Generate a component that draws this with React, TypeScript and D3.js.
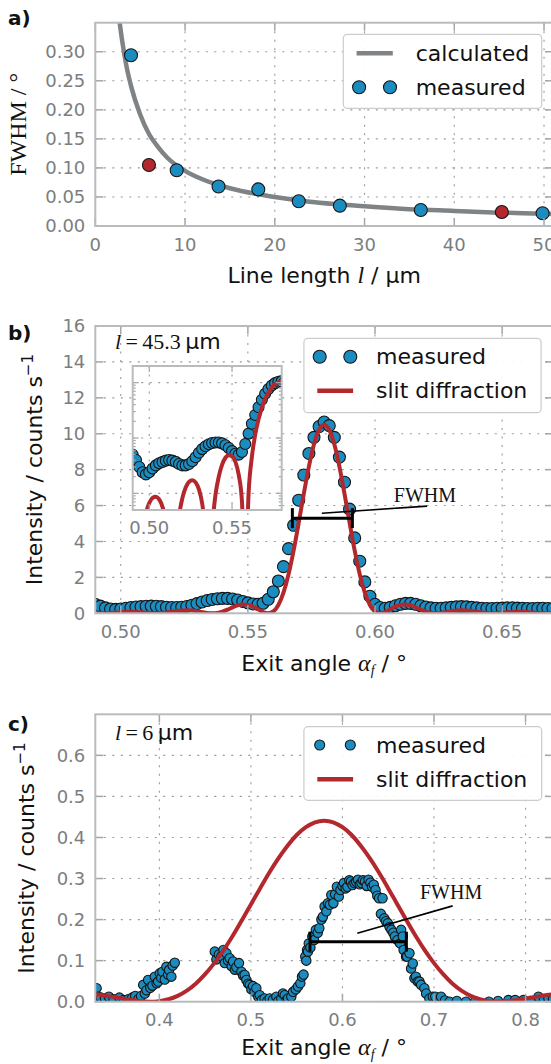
import { useRef, useEffect } from 'react';
import * as d3 from 'd3';

// a) FWHM against line length
const measuredLength = [3.98, 9.07, 13.73, 18.16, 22.67, 27.25, 36.27, 49.84];
const measuredFwhm = [0.294, 0.096, 0.068, 0.063, 0.0425, 0.035, 0.0276, 0.0219];
const shownLength = [5.98, 45.3];
const shownFwhm = [0.105, 0.024];
const calcLength = [2.7, 3.0, 3.5, 4, 5, 6, 7, 8, 10, 12, 15, 20, 25, 30, 35, 40, 45, 50, 52];
const calcFwhm = [0.352, 0.318, 0.273, 0.24, 0.192, 0.158, 0.136, 0.118, 0.095, 0.08, 0.065, 0.05, 0.04, 0.034, 0.029, 0.026, 0.023, 0.021, 0.02];
const ticksAx = [0, 10, 20, 30, 40, 50];
const ticksAy = [0, 0.05, 0.1, 0.15, 0.2, 0.25, 0.3];

// b) l = 45.3 um
const angleB = [
  0.490, 0.492, 0.494, 0.496, 0.498, 0.500, 0.502, 0.504, 0.506, 0.508,
  0.510, 0.512, 0.514, 0.516, 0.518, 0.520, 0.522, 0.524, 0.526, 0.528,
  0.530, 0.532, 0.534, 0.536, 0.538, 0.540, 0.542, 0.544, 0.546, 0.548,
  0.550, 0.552, 0.554, 0.556, 0.558, 0.560, 0.562, 0.564, 0.566, 0.568,
  0.570, 0.572, 0.574, 0.576, 0.578, 0.580, 0.582, 0.584, 0.586, 0.588,
  0.590, 0.592, 0.594, 0.596, 0.598, 0.600, 0.602, 0.604, 0.606, 0.608,
  0.610, 0.612, 0.614, 0.616, 0.618, 0.620, 0.622, 0.624, 0.626, 0.628,
  0.630, 0.632, 0.634, 0.636, 0.638, 0.640, 0.642, 0.644, 0.646, 0.648,
  0.650, 0.652, 0.654, 0.656, 0.658, 0.660, 0.662, 0.664, 0.666, 0.668,
  0.670,
];
const measuredB = [
  0.50, 0.40, 0.30, 0.24, 0.22, 0.24, 0.28, 0.32, 0.35, 0.37,
  0.39, 0.40, 0.39, 0.37, 0.34, 0.32, 0.32, 0.34, 0.38, 0.45,
  0.54, 0.63, 0.71, 0.77, 0.81, 0.83, 0.83, 0.80, 0.74, 0.66,
  0.58, 0.52, 0.50, 0.56, 0.78, 1.20, 1.80, 2.60, 3.60, 4.90,
  6.30, 7.70, 8.90, 9.80, 10.40, 10.65, 10.45, 9.80, 8.70, 7.30,
  5.80, 4.20, 2.90, 1.75, 0.95, 0.50, 0.32, 0.28, 0.33, 0.42,
  0.50, 0.55, 0.55, 0.50, 0.42, 0.35, 0.30, 0.28, 0.28, 0.30,
  0.33, 0.36, 0.37, 0.36, 0.33, 0.30, 0.28, 0.27, 0.27, 0.28,
  0.29, 0.30, 0.30, 0.29, 0.28, 0.27, 0.27, 0.28, 0.28, 0.27,
  0.27,
];
const slitB = [
  0.005, 0, 0.0055, 0.021, 0.044, 0.067, 0.083, 0.087, 0.078, 0.057,
  0.031, 0.0088, 0, 0.010, 0.039, 0.082, 0.127, 0.161, 0.173, 0.158,
  0.118, 0.065, 0.019, 0, 0.023, 0.094, 0.20, 0.33, 0.44, 0.49,
  0.47, 0.375, 0.22, 0.071, 0, 0.10, 0.46, 1.15, 2.17, 3.50,
  5.05, 6.66, 8.17, 9.41, 10.22, 10.50, 10.22, 9.41, 8.17, 6.66,
  5.05, 3.50, 2.17, 1.15, 0.46, 0.10, 0, 0.071, 0.22, 0.375,
  0.47, 0.49, 0.44, 0.33, 0.20, 0.094, 0.023, 0, 0.019, 0.065,
  0.118, 0.158, 0.173, 0.161, 0.127, 0.082, 0.039, 0.010, 0, 0.0088,
  0.031, 0.057, 0.078, 0.087, 0.083, 0.067, 0.044, 0.021, 0.0055, 0,
  0.005,
];
const fwhmB = [0.5675, 0.5911];
const fwhmLevelB = 5.3;
const ticksBx = [0.5, 0.55, 0.6, 0.65];
const ticksBy = [0, 2, 4, 6, 8, 10, 12, 14, 16];
const insetTicksX = [0.5, 0.55];
const insetDecades = [0.1, 1, 10];

// c) l = 6 um
const angleC = [
  0.3314, 0.333, 0.336, 0.3405, 0.3448, 0.35, 0.3563, 0.361, 0.366, 0.3703,
  0.3736, 0.377, 0.38, 0.3823, 0.3841, 0.386, 0.3877, 0.39, 0.3924, 0.395,
  0.397, 0.3986, 0.4004, 0.402, 0.4033, 0.4059, 0.4077, 0.4095, 0.4106, 0.4131,
  0.4145, 0.4168,
  0.4605, 0.4623, 0.465, 0.4677, 0.47, 0.4714, 0.4732, 0.475, 0.4768, 0.479,
  0.4805, 0.4825, 0.4841, 0.487, 0.4896, 0.4915, 0.4932, 0.495, 0.497, 0.4987,
  0.5005, 0.5023, 0.504, 0.5059, 0.508, 0.5096, 0.512, 0.515, 0.518, 0.5205,
  0.524, 0.5278, 0.53, 0.5332, 0.535, 0.5369, 0.539, 0.5405, 0.5441, 0.546,
  0.549, 0.5514, 0.554, 0.5558, 0.5575, 0.5594, 0.5605, 0.5613, 0.5623, 0.5632,
  0.565, 0.5671, 0.569, 0.5709, 0.573, 0.5747, 0.577, 0.5786, 0.5805, 0.5824,
  0.5841, 0.5862, 0.5878, 0.5901, 0.592, 0.5939, 0.596, 0.5978, 0.6, 0.6016,
  0.6035, 0.6054, 0.6075, 0.6093, 0.611, 0.6131, 0.615, 0.6169, 0.619, 0.6208,
  0.6225, 0.6246, 0.6265, 0.6285, 0.6305, 0.6323, 0.6342, 0.6361, 0.638, 0.64,
  0.642, 0.6438, 0.6457, 0.6475, 0.6496, 0.6515, 0.6534, 0.6555, 0.6572, 0.66,
  0.663, 0.6641, 0.6659, 0.6668, 0.6695, 0.6706, 0.6732, 0.675, 0.6768, 0.6786,
  0.6802, 0.6823, 0.6841, 0.6859, 0.6895, 0.6914, 0.695, 0.6987, 0.7014, 0.7077,
  0.712, 0.717, 0.725, 0.735, 0.745, 0.76, 0.77, 0.7813, 0.7886, 0.7977,
  0.805, 0.8141, 0.82, 0.825, 0.83,
];
const measuredC = [
  0.033, 0.012, 0.010, 0.008, 0.012, 0.006, 0.010, 0.004, 0.006, 0.010,
  0.014, 0.006, 0.014, 0.041, 0.020, 0.028, 0.053, 0.034, 0.039, 0.061,
  0.045, 0.049, 0.069, 0.058, 0.073, 0.054, 0.085, 0.066, 0.077, 0.061,
  0.088, 0.095,
  0.122, 0.103, 0.115, 0.110, 0.126, 0.094, 0.118, 0.100, 0.106, 0.086,
  0.098, 0.078, 0.084, 0.094, 0.073, 0.064, 0.065, 0.053, 0.044, 0.041,
  0.030, 0.038, 0.024, 0.033, 0.012, 0.016, 0.004, 0.008, 0.002, 0.008,
  0.004, 0.012, 0.002, 0.008, 0.020, 0.016, 0.004, 0.008, 0.012, 0.024,
  0.030, 0.037, 0.045, 0.061, 0.066, 0.110, 0.100, 0.126, 0.122, 0.142,
  0.132, 0.159, 0.150, 0.175, 0.168, 0.179, 0.200, 0.207, 0.232, 0.220,
  0.240, 0.236, 0.260, 0.240, 0.262, 0.280, 0.256, 0.272, 0.282, 0.289,
  0.276, 0.280, 0.296, 0.293, 0.284, 0.289, 0.292, 0.297, 0.286, 0.289,
  0.296, 0.293, 0.282, 0.297, 0.290, 0.280, 0.285, 0.272, 0.258, 0.252,
  0.214, 0.252, 0.203, 0.196, 0.191, 0.182, 0.175, 0.168, 0.159, 0.150,
  0.142, 0.175, 0.159, 0.126, 0.110, 0.110, 0.118, 0.081, 0.093, 0.057,
  0.061, 0.049, 0.049, 0.041, 0.033, 0.020, 0.008, 0.012, 0.012, 0.012,
  0.003, 0.000, 0.002, 0.000, 0.001, 0.000, 0.002, 0.004, 0.004, 0.004,
  0.002, 0.012, 0.004, 0.008, 0.006,
];
const slitAngleC = [
  0.33, 0.34, 0.35, 0.36, 0.37, 0.38, 0.39, 0.40, 0.41, 0.42,
  0.43, 0.44, 0.45, 0.46, 0.47, 0.48, 0.49, 0.50, 0.51, 0.52,
  0.53, 0.54, 0.55, 0.56, 0.57, 0.58, 0.59, 0.60, 0.61, 0.62,
  0.63, 0.64, 0.65, 0.66, 0.67, 0.68, 0.69, 0.70, 0.71, 0.72,
  0.73, 0.74, 0.75, 0.76, 0.77, 0.78, 0.79, 0.80, 0.81, 0.82,
  0.83,
];
const slitC = [
  0.0181, 0.0152, 0.0115, 0.0076, 0.0039, 0.0011, 0, 0.0014, 0.0059, 0.0143,
  0.027, 0.0445, 0.067, 0.094, 0.125, 0.160, 0.198, 0.237, 0.276, 0.314,
  0.349, 0.380, 0.406, 0.425, 0.437, 0.441, 0.437, 0.425, 0.406, 0.380,
  0.349, 0.314, 0.276, 0.237, 0.198, 0.160, 0.125, 0.094, 0.067, 0.0445,
  0.027, 0.0143, 0.0059, 0.0014, 0, 0.0011, 0.0039, 0.0076, 0.0115, 0.0152,
  0.0181,
];
const fwhmC = [0.5645, 0.6698];
const fwhmLevelC = 0.1463;
const ticksCx = [0.4, 0.5, 0.6, 0.7, 0.8];
const ticksCy = [0, 0.1, 0.2, 0.3, 0.4, 0.5, 0.6];

const W = 551;
const H = 1064;
const BLUE = '#1b8cc0';
const RED = '#b3282d';
const GREY = '#7f8385';
const SPINE = '#b8bcbe';
const TICK = '#a3a7a9';
const LABEL = '#7b7e80';
const GRID = '#9a9a9a';
const SANS = "'DejaVu Sans', sans-serif";
const SERIF = "'Liberation Serif', 'DejaVu Serif', serif";

function panel(svg, id, x, y, xTicks, yTicks, xFmt, yFmt) {
  const [l, r] = x.range();
  const [b, t] = y.range();
  svg.append('clipPath').attr('id', id)
    .append('rect').attr('x', l).attr('y', t).attr('width', r - l).attr('height', b - t);

  const grid = svg.append('g')
    .attr('stroke', GRID).attr('stroke-width', 1.1).attr('stroke-dasharray', '2,6.5');
  grid.selectAll('line.v').data(xTicks).join('line').attr('class', 'v')
    .attr('x1', d => x(d)).attr('x2', d => x(d)).attr('y1', t).attr('y2', b);
  grid.selectAll('line.h').data(yTicks).join('line').attr('class', 'h')
    .attr('x1', l).attr('x2', r).attr('y1', d => y(d)).attr('y2', d => y(d));

  const data = svg.append('g').attr('clip-path', `url(#${id})`);
  const over = svg.append('g');

  const ticks = over.append('g').attr('stroke', TICK).attr('stroke-width', 1.5);
  xTicks.forEach(d => {
    ticks.append('line').attr('x1', x(d)).attr('x2', x(d)).attr('y1', b).attr('y2', b - 8);
    ticks.append('line').attr('x1', x(d)).attr('x2', x(d)).attr('y1', t).attr('y2', t + 8);
  });
  yTicks.forEach(d => {
    ticks.append('line').attr('x1', l).attr('x2', l + 8).attr('y1', y(d)).attr('y2', y(d));
    ticks.append('line').attr('x1', r).attr('x2', r - 8).attr('y1', y(d)).attr('y2', y(d));
  });
  over.append('rect').attr('x', l).attr('y', t).attr('width', r - l).attr('height', b - t)
    .attr('fill', 'none').attr('stroke', SPINE).attr('stroke-width', 2);

  over.selectAll('text.xt').data(xTicks).join('text').attr('class', 'xt')
    .attr('x', d => x(d)).attr('y', b + 24.5).attr('text-anchor', 'middle')
    .attr('font-family', SANS).attr('font-size', 18).attr('fill', LABEL)
    .text(d => xFmt(d));
  over.selectAll('text.yt').data(yTicks).join('text').attr('class', 'yt')
    .attr('x', l - 10).attr('y', d => y(d)).attr('dy', '0.36em').attr('text-anchor', 'end')
    .attr('font-family', SANS).attr('font-size', 18).attr('fill', LABEL)
    .text(d => yFmt(d));
  return { data, over };
}

function markers(g, xs, ys, x, y, r, fill) {
  g.append('g').selectAll('circle').data(xs.map((v, i) => [v, ys[i]])).join('circle')
    .attr('cx', d => x(d[0])).attr('cy', d => y(d[1])).attr('r', r)
    .attr('fill', fill).attr('stroke', '#151515').attr('stroke-width', 1.1);
}

function curve(g, xs, ys, x, y, color, width) {
  const line = d3.line().x(d => x(d[0])).y(d => y(d[1])).curve(d3.curveMonotoneX);
  g.append('path').attr('d', line(xs.map((v, i) => [v, ys[i]])))
    .attr('fill', 'none').attr('stroke', color).attr('stroke-width', width)
    .attr('stroke-linejoin', 'round');
}

function legend(svg, box, entries) {
  const g = svg.append('g');
  g.append('rect').attr('x', box.x).attr('y', box.y).attr('width', box.w).attr('height', box.h)
    .attr('rx', 4).attr('fill', '#fff').attr('fill-opacity', 0.92)
    .attr('stroke', '#cccccc').attr('stroke-width', 1.2);
  entries.forEach(e => {
    if (e.type === 'line') {
      g.append('line').attr('x1', box.lx0).attr('x2', box.lx1).attr('y1', e.cy).attr('y2', e.cy)
        .attr('stroke', e.color).attr('stroke-width', e.width);
    } else {
      box.mx.forEach(mx => {
        g.append('circle').attr('cx', mx).attr('cy', e.cy).attr('r', e.r)
          .attr('fill', e.color).attr('stroke', '#151515').attr('stroke-width', 1.1);
      });
    }
    g.append('text').attr('x', box.tx).attr('y', e.cy + 7.5)
      .attr('font-family', SANS).attr('font-size', 22).attr('fill', '#111')
      .text(e.label);
  });
}

function fwhmMarker(g, x, y, span, level, from, to, textAt) {
  const yy = y(level);
  g.append('line').attr('x1', x(span[0])).attr('x2', x(span[1])).attr('y1', yy).attr('y2', yy)
    .attr('stroke', '#000').attr('stroke-width', 3);
  span.forEach(s => {
    g.append('line').attr('x1', x(s)).attr('x2', x(s)).attr('y1', yy - 10).attr('y2', yy + 10)
      .attr('stroke', '#000').attr('stroke-width', 3);
  });
  g.append('line').attr('x1', x(from[0])).attr('y1', y(from[1])).attr('x2', x(to[0])).attr('y2', y(to[1]))
    .attr('stroke', '#000').attr('stroke-width', 1.6);
  g.append('text').attr('x', x(textAt[0])).attr('y', y(textAt[1]))
    .attr('font-family', SERIF).attr('font-size', 20).attr('fill', '#111').text('FWHM');
}

function yLabel(svg, cx, cy, serifText) {
  const t = svg.append('text').attr('transform', `translate(${cx},${cy}) rotate(-90)`)
    .attr('text-anchor', 'middle').attr('fill', '#111');
  if (serifText) {
    t.attr('font-family', SERIF).attr('font-size', 24).text(serifText);
  } else {
    t.attr('font-family', SANS).attr('font-size', 22);
    t.append('tspan').text('Intensity / counts s');
    t.append('tspan').attr('font-size', 15).attr('dy', -9).text('\u22121');
  }
}

function exitLabel(svg, cx, baseline) {
  const t = svg.append('text').attr('x', cx).attr('y', baseline).attr('text-anchor', 'middle')
    .attr('font-family', SANS).attr('font-size', 22).attr('fill', '#111');
  t.append('tspan').text('Exit angle ');
  t.append('tspan').attr('font-family', SERIF).attr('font-style', 'italic').attr('font-size', 24).text('\u03b1');
  t.append('tspan').attr('font-family', SERIF).attr('font-style', 'italic').attr('font-size', 14).attr('dy', 4).text('f');
  t.append('tspan').attr('dy', -4).text(' / \u00b0');
}

function lengthNote(svg, x, y, value) {
  const t = svg.append('text').attr('x', x).attr('y', y).attr('font-size', 22).attr('fill', '#111');
  t.append('tspan').attr('font-family', SERIF).attr('font-style', 'italic').text('l');
  t.append('tspan').attr('font-family', SERIF).text(`\u2009=\u2009${value}`);
  t.append('tspan').attr('font-family', SANS).text('\u2009\u00b5m');
}

const App = () => {
  const ref = useRef(null);

  useEffect(() => {
    const svg = d3.select(ref.current);
    svg.selectAll('*').remove();
    svg.append('rect').attr('width', W).attr('height', H).attr('fill', '#fff');

    const L = 95.3;
    const R = 553;

    // ---------- a)
    const xa = d3.scaleLinear().domain([0, 51]).range([L, R]);
    const ya = d3.scaleLinear().domain([0, 0.35]).range([226, 22.7]);
    const pa = panel(svg, 'clipA', xa, ya, ticksAx, ticksAy, d3.format('d'), d3.format('.2f'));
    curve(pa.data, calcLength, calcFwhm, xa, ya, GREY, 4.5);
    markers(pa.data, measuredLength, measuredFwhm, xa, ya, 6.5, BLUE);
    markers(pa.data, shownLength, shownFwhm, xa, ya, 6.5, RED);
    legend(svg, { x: 343.3, y: 34.3, w: 198.4, h: 74, lx0: 356.6, lx1: 392.8, mx: [359.1, 390], tx: 415.7 }, [
      { type: 'line', color: GREY, width: 4.5, cy: 53.3, label: 'calculated' },
      { type: 'markers', color: BLUE, r: 6.5, cy: 87.3, label: 'measured' },
    ]);
    const xla = svg.append('text').attr('x', (L + R) / 2).attr('y', 283).attr('text-anchor', 'middle')
      .attr('font-family', SANS).attr('font-size', 22).attr('fill', '#111');
    xla.append('tspan').text('Line length ');
    xla.append('tspan').attr('font-family', SERIF).attr('font-style', 'italic').attr('font-size', 24).text('l');
    xla.append('tspan').text(' / \u00b5m');
    yLabel(svg, 26, (226 + 22.7) / 2, 'FWHM / \u00b0');
    svg.append('text').attr('x', 8).attr('y', 25).attr('font-family', SANS).attr('font-weight', 'bold')
      .attr('font-size', 20).attr('fill', '#111').text('a)');

    // ---------- b)
    const xb = d3.scaleLinear().domain([0.49, 0.67]).range([L, R]);
    const yb = d3.scaleLinear().domain([0, 16]).range([613.3, 326]);
    const pb = panel(svg, 'clipB', xb, yb, ticksBx, ticksBy, d3.format('.2f'), d3.format('d'));
    markers(pb.data, angleB, measuredB, xb, yb, 6, BLUE);
    curve(pb.data, angleB, slitB, xb, yb, RED, 4);
    fwhmMarker(svg, xb, yb, fwhmB, fwhmLevelB, [0.5791, 5.57], [0.6205, 5.97], [0.6074, 6.21]);
    lengthNote(svg, 115, 348.5, '45.3');
    legend(svg, { x: 303.9, y: 338.3, w: 237.2, h: 74.4, lx0: 317.3, lx1: 353.1, mx: [319.7, 350.3], tx: 376 }, [
      { type: 'markers', color: BLUE, r: 6.5, cy: 356.7, label: 'measured' },
      { type: 'line', color: RED, width: 4.5, cy: 390.7, label: 'slit diffraction' },
    ]);

    // inset (log scale)
    const xi = d3.scaleLinear().domain([0.49, 0.58]).range([132.7, 281.7]);
    const yi = d3.scaleLog().domain([0.05, 20]).range([510, 366]);
    const [il, ir] = xi.range();
    const [ib, it] = yi.range();
    svg.append('rect').attr('x', il).attr('y', it).attr('width', ir - il).attr('height', ib - it).attr('fill', '#fff');
    svg.append('clipPath').attr('id', 'clipI')
      .append('rect').attr('x', il).attr('y', it).attr('width', ir - il).attr('height', ib - it);
    const ig = svg.append('g').attr('stroke', GRID).attr('stroke-width', 1.1).attr('stroke-dasharray', '2,6.5');
    insetTicksX.forEach(d => ig.append('line').attr('x1', xi(d)).attr('x2', xi(d)).attr('y1', it).attr('y2', ib));
    insetDecades.forEach(d => ig.append('line').attr('x1', il).attr('x2', ir).attr('y1', yi(d)).attr('y2', yi(d)));
    const idata = svg.append('g').attr('clip-path', 'url(#clipI)');
    const inB = angleB.map((v, i) => i).filter(i => angleB[i] <= 0.582);
    markers(idata, inB.map(i => angleB[i]), inB.map(i => measuredB[i]), xi, yi, 5.5, BLUE);
    curve(idata, inB.map(i => angleB[i]), inB.map(i => Math.max(slitB[i], 0.002)), xi, yi, RED, 4);
    const itk = svg.append('g').attr('stroke', TICK).attr('stroke-width', 1.2);
    insetTicksX.forEach(d => {
      itk.append('line').attr('x1', xi(d)).attr('x2', xi(d)).attr('y1', ib).attr('y2', ib - 6);
      itk.append('line').attr('x1', xi(d)).attr('x2', xi(d)).attr('y1', it).attr('y2', it + 6);
    });
    yi.ticks().forEach(d => {
      const major = insetDecades.includes(d);
      const len = major ? 6 : 3;
      itk.append('line').attr('x1', il).attr('x2', il + len).attr('y1', yi(d)).attr('y2', yi(d));
      itk.append('line').attr('x1', ir).attr('x2', ir - len).attr('y1', yi(d)).attr('y2', yi(d));
    });
    svg.append('rect').attr('x', il).attr('y', it).attr('width', ir - il).attr('height', ib - it)
      .attr('fill', 'none').attr('stroke', SPINE).attr('stroke-width', 2);
    svg.selectAll('text.it').data(insetTicksX).join('text').attr('class', 'it')
      .attr('x', d => xi(d)).attr('y', ib + 24).attr('text-anchor', 'middle')
      .attr('font-family', SANS).attr('font-size', 18).attr('fill', LABEL)
      .text(d => d3.format('.2f')(d));

    exitLabel(svg, (L + R) / 2, 671);
    yLabel(svg, 42, (613.3 + 326) / 2, null);
    svg.append('text').attr('x', 8).attr('y', 340).attr('font-family', SANS).attr('font-weight', 'bold')
      .attr('font-size', 20).attr('fill', '#111').text('b)');

    // ---------- c)
    const xc = d3.scaleLinear().domain([0.33, 0.83]).range([L, R]);
    const yc = d3.scaleLinear().domain([0, 0.7]).range([1001.7, 714.3]);
    const pc = panel(svg, 'clipC', xc, yc, ticksCx, ticksCy, d3.format('.1f'), d3.format('.1f'));
    markers(pc.data, angleC, measuredC, xc, yc, 4.7, BLUE);
    curve(pc.data, slitAngleC, slitC, xc, yc, RED, 4);
    fwhmMarker(svg, xc, yc, fwhmC, fwhmLevelC, [0.6162, 0.1668], [0.7204, 0.2334], [0.6847, 0.2497]);
    lengthNote(svg, 115, 740, '6');
    legend(svg, { x: 303.9, y: 726.7, w: 237.8, h: 73.6, lx0: 317.3, lx1: 353.1, mx: [319.7, 350.3], tx: 376 }, [
      { type: 'markers', color: BLUE, r: 5, cy: 745, label: 'measured' },
      { type: 'line', color: RED, width: 4.5, cy: 779.3, label: 'slit diffraction' },
    ]);
    exitLabel(svg, (L + R) / 2, 1055);
    yLabel(svg, 34, (1001.7 + 714.3) / 2, null);
    svg.append('text').attr('x', 8).attr('y', 731).attr('font-family', SANS).attr('font-weight', 'bold')
      .attr('font-size', 20).attr('fill', '#111').text('c)');
  }, []);

  return (
    <svg ref={ref} width={W} height={H} style={{ position: 'absolute', left: 0, top: 0, display: 'block' }}></svg>
  );
};

export default App;
